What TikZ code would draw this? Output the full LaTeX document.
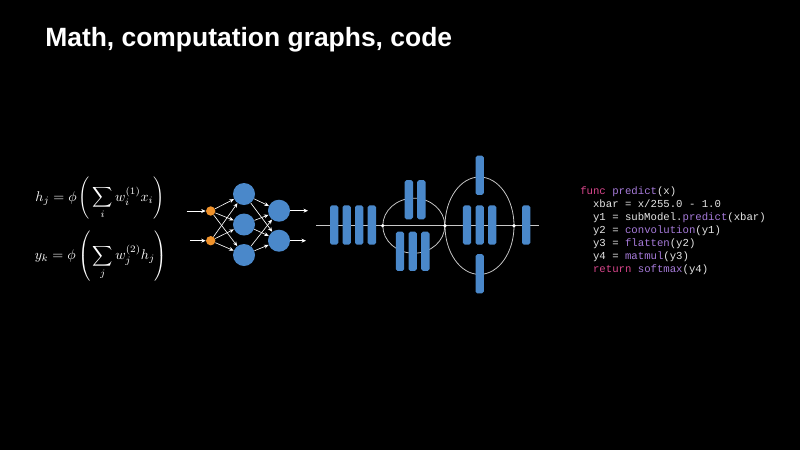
\documentclass[tikz,border=0pt]{standalone}
\usepackage{fontspec}
\setsansfont{Liberation Sans}
\setmonofont{Liberation Mono}
\usetikzlibrary{arrows.meta}

\begin{document}
\begin{tikzpicture}[x=0.025cm, y=-0.025cm,
    wire/.style={draw=WireGray, line width=0.55pt},
    link/.style={draw=white, line width=0.45pt, -{Stealth[length=3.2pt, width=2.8pt]}},
    unit/.style={circle, fill=NetBlue, minimum size=0.55cm, inner sep=0pt},
    inunit/.style={circle, fill=NetOrange, minimum size=0.235cm, inner sep=0pt},
    opbar/.style={rectangle, rounded corners=1.3pt, fill=NetBlue, minimum width=0.21cm, minimum height=0.98cm, inner sep=0pt},
    joint/.style={circle, fill=white, minimum size=0.09cm, inner sep=0pt},
    mathtext/.style={text=white, inner sep=0pt, font=\fontsize{9.8}{12}\selectfont},
    codetext/.style={text=CodeWhite, inner sep=0pt, align=left, font=\ttfamily\fontsize{7.58pt}{9.26pt}\selectfont}]
    \definecolor{NetBlue}{HTML}{4A88CA}
    \definecolor{NetOrange}{HTML}{F0922B}
    \definecolor{WireGray}{HTML}{C8C8C8}
    \definecolor{CodeWhite}{HTML}{E6E6E6}
    \definecolor{KeyPink}{HTML}{D9468C}
    \definecolor{CallPurple}{HTML}{A77BDB}
    \fill[black] (0,0) rectangle (800,450);
    \useasboundingbox (0,0) rectangle (800,450);

    \node[anchor=base west, inner sep=0pt, text=white, font=\sffamily\bfseries\fontsize{18.8}{23}\selectfont] (title) at (45,46.7) {Math, computation graphs, code};

    \node[mathtext] (hj) at (100,198) {$\displaystyle h_j = \phi\left(\,\sum_i w_i^{(1)} x_i\right)$};
    \node[mathtext] (yk) at (101,256) {$\displaystyle y_k = \phi\left(\,\sum_j w_j^{(2)} h_j\right)$};

    \node[inunit] (i1) at (210.7,211) {};
    \node[inunit] (i2) at (210.7,240.7) {};
    \node[unit] (h1) at (244,194) {};
    \node[unit] (h2) at (244,224.5) {};
    \node[unit] (h3) at (244,255) {};
    \node[unit] (o1) at (279,210.7) {};
    \node[unit] (o2) at (279,240.7) {};
    \coordinate (x1) at (186.7,211);
    \coordinate (x2) at (190,240.7);
    \coordinate (y1) at (308,210.7);
    \coordinate (y2) at (306,240.7);
    \draw[link] (x1) -- (i1);
    \draw[link] (x2) -- (i2);
    \draw[link] (o1) -- (y1);
    \draw[link] (o2) -- (y2);
    \foreach \a in {1,2}{
        \foreach \b in {1,2,3}{
            \draw[link] (i\a) -- (h\b);
            \draw[link] (h\b) -- (o\a);
        }
    }

    \coordinate (gin) at (316,225.7);
    \coordinate (gout) at (539,225.7);
    \coordinate (e1) at (413.8,225.7);
    \coordinate (e2) at (479.5,225.7);
    \draw[wire] (gin) -- (gout);
    \draw[wire] (e1) ellipse [x radius=0.775cm, y radius=0.6875cm];
    \draw[wire] (e2) ellipse [x radius=0.8625cm, y radius=1.2175cm];
    \foreach \x [count=\n] in {334.2,346.7,359.2,371.8}{
        \node[opbar] (g\n) at (\x,225) {};
    }
    \foreach \x [count=\n] in {408.8,421.3}{
        \node[opbar] (u\n) at (\x,199.7) {};
    }
    \foreach \x [count=\n] in {400,412.7,425.3}{
        \node[opbar] (l\n) at (\x,251.3) {};
    }
    \foreach \x [count=\n] in {467,479.7,492.2}{
        \node[opbar] (m\n) at (\x,225) {};
    }
    \node[opbar] (top) at (479.7,175.3) {};
    \node[opbar] (bot) at (479.7,273.8) {};
    \node[opbar] (last) at (526.2,225) {};
    \foreach \x [count=\n] in {382.7,445,514}{
        \node[joint] (j\n) at (\x,225.7) {};
    }

    \node[codetext, anchor=north west] (code) at (580,186.5) {%
        \textcolor{KeyPink}{func} \textcolor{CallPurple}{predict}(x)\\
        \ \ xbar = x/255.0 - 1.0\\
        \ \ y1 = subModel.\textcolor{CallPurple}{predict}(xbar)\\
        \ \ y2 = \textcolor{CallPurple}{convolution}(y1)\\
        \ \ y3 = \textcolor{CallPurple}{flatten}(y2)\\
        \ \ y4 = \textcolor{CallPurple}{matmul}(y3)\\
        \ \ \textcolor{KeyPink}{return} \textcolor{CallPurple}{softmax}(y4)};
\end{tikzpicture}
\end{document}
